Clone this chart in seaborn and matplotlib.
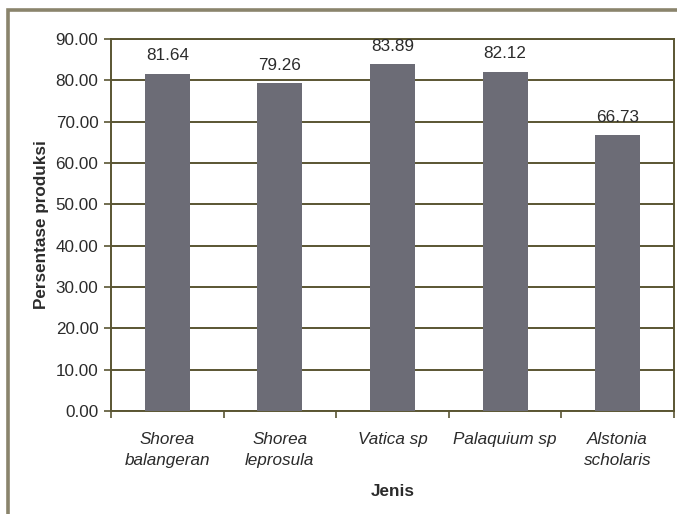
import matplotlib
matplotlib.use("Agg")
import matplotlib.pyplot as plt
from matplotlib.patches import Rectangle
from matplotlib.ticker import FixedLocator, FormatStrFormatter
import pandas as pd
import seaborn as sns

# Production percentage per species
jenis = ["Shorea\nbalangeran", "Shorea\nleprosula", "Vatica sp", "Palaquium sp", "Alstonia\nscholaris"]
persentase = [81.64, 79.26, 83.89, 82.12, 66.73]
y_ticks = [0, 10, 20, 30, 40, 50, 60, 70, 80, 90]

df = pd.DataFrame({"Jenis": jenis, "Persentase": persentase})

sns.set_theme(style="white")
plt.rcParams["font.family"] = ["Liberation Sans", "DejaVu Sans"]

W, H = 677, 514
fig = plt.figure(figsize=(W / 100, H / 100), dpi=100)
fig.patch.set_facecolor("white")

# outer chart frame
fig.patches.append(Rectangle((8 / W, -0.2), 1.2, 1.2 - 10 / H,
                             transform=fig.transFigure, fill=False,
                             edgecolor="#8a846c", linewidth=2.6, zorder=0))

ax = fig.add_axes([111 / W, 1 - 411 / H, (674 - 111) / W, (411 - 39) / H])
ax.set_facecolor("white")

grid_col = "#5a5532"
bar_col = "#6c6c76"
text_col = "#2b2b2b"
fs = 12.3

sns.barplot(data=df, x="Jenis", y="Persentase", color=bar_col, width=0.4,
            saturation=1, linewidth=0, edgecolor=bar_col, ax=ax, zorder=3)

ax.set_xlim(-0.5, len(jenis) - 0.5)
ax.set_ylim(0, 90)
ax.yaxis.set_major_locator(FixedLocator(y_ticks))
ax.yaxis.set_major_formatter(FormatStrFormatter("%.2f"))
ax.grid(axis="y", color=grid_col, linewidth=1.4, zorder=1)
ax.grid(axis="x", visible=False)

for s in ax.spines.values():
    s.set_color(grid_col)
    s.set_linewidth(1.4)

ax.tick_params(axis="y", which="major", left=True, length=5, width=1.2,
               color=grid_col, labelsize=fs, labelcolor=text_col, pad=4)
ax.tick_params(axis="x", which="major", bottom=False, length=0,
               labelsize=fs, labelcolor=text_col, pad=15)
ax.set_xticks(range(len(jenis)))
ax.set_xticklabels(jenis, style="italic", linespacing=1.55, va="top")
ax.xaxis.set_minor_locator(FixedLocator([i - 0.5 for i in range(len(jenis) + 1)]))
ax.tick_params(axis="x", which="minor", bottom=True, length=5, width=1.2,
               color=grid_col, direction="out")

for i, v in enumerate(persentase):
    ax.annotate(f"{v:.2f}", (i, v), xytext=(0, 13), textcoords="offset points",
                ha="center", va="center", fontsize=fs, color=text_col, zorder=4)

ax.set_ylabel("Persentase produksi", fontsize=fs, fontweight="bold",
              color=text_col, labelpad=5)
ax.set_xlabel("Jenis", fontsize=fs, fontweight="bold", color=text_col,
              labelpad=11)

fig.savefig("out.png", dpi=100, facecolor="white")
